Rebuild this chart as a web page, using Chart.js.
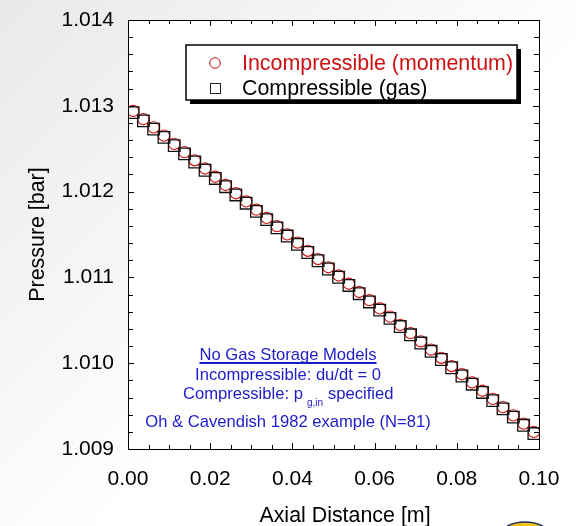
<!DOCTYPE html>
<html>
<head>
<meta charset="utf-8">
<script src="https://cdn.jsdelivr.net/npm/chart.js@4"></script>
<style>
html,body{margin:0;padding:0;background:#fff;}
canvas{display:block;}
</style>
</head>
<body>
<canvas id="c" width="576" height="526"></canvas>
<script>
const axialDistance = [0.00125, 0.00375, 0.00625, 0.00875, 0.01125, 0.01375, 0.01625, 0.01875, 0.02125, 0.02375,
  0.02625, 0.02875, 0.03125, 0.03375, 0.03625, 0.03875, 0.04125, 0.04375, 0.04625, 0.04875,
  0.05125, 0.05375, 0.05625, 0.05875, 0.06125, 0.06375, 0.06625, 0.06875, 0.07125, 0.07375,
  0.07625, 0.07875, 0.08125, 0.08375, 0.08625, 0.08875, 0.09125, 0.09375, 0.09625, 0.09875];
const incompressible = [1.01294, 1.012844, 1.012748, 1.012652, 1.012556, 1.01246, 1.012365, 1.012269, 1.012173, 1.012077,
  1.011981, 1.011885, 1.011789, 1.011693, 1.011597, 1.011502, 1.011406, 1.01131, 1.011214, 1.011118,
  1.011022, 1.010926, 1.01083, 1.010734, 1.010638, 1.010543, 1.010447, 1.010351, 1.010255, 1.010159,
  1.010063, 1.009967, 1.009871, 1.009775, 1.009679, 1.009584, 1.009488, 1.009392, 1.009296, 1.0092];
const compressible = [1.01292, 1.012824, 1.012728, 1.012632, 1.012536, 1.01244, 1.012345, 1.012249, 1.012153, 1.012057,
  1.011961, 1.011865, 1.011769, 1.011673, 1.011577, 1.011482, 1.011386, 1.01129, 1.011194, 1.011098,
  1.011002, 1.010906, 1.01081, 1.010714, 1.010618, 1.010523, 1.010427, 1.010331, 1.010235, 1.010139,
  1.010043, 1.009947, 1.009851, 1.009755, 1.009659, 1.009564, 1.009468, 1.009372, 1.009276, 1.00918];
const seriesNames = ['Incompressible (momentum)', 'Compressible (gas)'];
const xTickLabels = ['0.00', '0.02', '0.04', '0.06', '0.08', '0.10'];
const yTickLabels = ['1.009', '1.010', '1.011', '1.012', '1.013', '1.014'];
const xTitle = 'Axial Distance [m]';
const yTitle = 'Pressure [bar]';
const noteLines = ['No Gas Storage Models', 'Incompressible: du/dt = 0', 'Compressible: p', 'g,in', 'specified', 'Oh & Cavendish 1982 example (N=81)'];

const FONT = "'Liberation Sans', Arial, Helvetica, sans-serif";
const RED = '#d01010';
const BLUE = '#1c1cc8';

const toXY = (xs, ys) => xs.map((x, i) => ({x: x, y: ys[i]}));

const bgPlugin = {
  id: 'bg',
  beforeDraw(chart) {
    const ctx = chart.ctx;
    ctx.save();
    const g = ctx.createLinearGradient(0, 0, 320, 320);
    g.addColorStop(0, '#e9e9e9');
    g.addColorStop(1, '#ffffff');
    ctx.fillStyle = g;
    ctx.fillRect(0, 0, chart.width, chart.height);
    const a = chart.chartArea;
    ctx.fillStyle = '#ffffff';
    ctx.fillRect(a.left, a.top, a.right - a.left, a.bottom - a.top);
    ctx.restore();
  }
};

const frame = {
  id: 'frame',
  afterDatasetsDraw(chart) {
    const ctx = chart.ctx;
    const a = chart.chartArea;
    const xs = chart.scales.x, ys = chart.scales.y;
    ctx.save();
    ctx.strokeStyle = '#000';
    ctx.lineWidth = 1;
    ctx.strokeRect(Math.round(a.left) + 0.5, Math.round(a.top) + 0.5, Math.round(a.right - a.left), Math.round(a.bottom - a.top));
    ctx.beginPath();
    for (let k = 0; k <= 20; k++) {
      const v = k * 0.005;
      const px = Math.round(xs.getPixelForValue(v)) + 0.5;
      const len = (k % 4 === 0) ? 6 : 4;
      ctx.moveTo(px, a.bottom); ctx.lineTo(px, a.bottom - len);
      ctx.moveTo(px, a.top); ctx.lineTo(px, a.top + len);
    }
    for (let k = 0; k <= 25; k++) {
      const v = 1.009 + k * 0.0002;
      const py = Math.round(ys.getPixelForValue(v)) + 0.5;
      const len = (k % 5 === 0) ? 6 : 5;
      ctx.moveTo(a.left, py); ctx.lineTo(a.left + len, py);
      ctx.moveTo(a.right, py); ctx.lineTo(a.right - len, py);
    }
    ctx.stroke();

    // x axis title
    ctx.font = '21.4px ' + FONT;
    ctx.fillStyle = '#000';
    ctx.textAlign = 'center';
    ctx.textBaseline = 'middle';
    ctx.fillText(xTitle, 345, 516);

    // legend box
    const bx = 186, by = 45, bw = 331, bh = 55;
    ctx.fillStyle = '#000';
    ctx.fillRect(bx + 4, by + 4, bw, bh);
    ctx.fillStyle = '#fff';
    ctx.fillRect(bx, by, bw, bh);
    ctx.lineWidth = 1.5;
    ctx.strokeRect(bx, by, bw, bh);
    ctx.lineWidth = 1;
    ctx.strokeStyle = RED;
    ctx.beginPath(); ctx.arc(215, 63, 5.3, 0, Math.PI * 2); ctx.stroke();
    ctx.strokeStyle = '#222';
    ctx.strokeRect(210.5, 83.5, 10, 10);
    ctx.font = '21.4px ' + FONT;
    ctx.textAlign = 'left';
    ctx.fillStyle = RED;
    ctx.fillText(seriesNames[0], 242, 64);
    ctx.fillStyle = '#000';
    ctx.fillText(seriesNames[1], 242, 89);

    // notes
    ctx.fillStyle = BLUE;
    ctx.strokeStyle = BLUE;
    ctx.font = '16.6px ' + FONT;
    ctx.textAlign = 'center';
    ctx.fillText(noteLines[0], 288, 355);
    const w0 = ctx.measureText(noteLines[0]).width;
    ctx.fillRect(288 - w0 / 2, 362, w0, 2);
    ctx.fillText(noteLines[1], 288, 375);
    ctx.textAlign = 'left';
    ctx.fillText(noteLines[2], 183, 394);
    ctx.font = '10px ' + FONT;
    ctx.fillText(noteLines[3], 307, 403);
    ctx.font = '16.6px ' + FONT;
    ctx.fillText(noteLines[4], 328, 394);
    ctx.textAlign = 'center';
    ctx.fillText(noteLines[5], 288, 422);

    // logo fragment
    ctx.beginPath();
    ctx.ellipse(525, 534, 23, 12, 0, 0, Math.PI * 2);
    ctx.fillStyle = '#f2c21c';
    ctx.fill();
    ctx.strokeStyle = '#1e2f5e';
    ctx.lineWidth = 1.5;
    ctx.stroke();
    ctx.restore();
  }
};

new Chart(document.getElementById('c'), {
  type: 'scatter',
  data: {
    datasets: [
      {
        label: seriesNames[1],
        data: toXY(axialDistance, compressible),
        pointStyle: 'rect',
        pointRadius: 8.2,
        pointHoverRadius: 8.2,
        borderColor: '#111',
        backgroundColor: 'rgba(0,0,0,0)',
        borderWidth: 1.3,
        showLine: false
      },
      {
        label: seriesNames[0],
        data: toXY(axialDistance, incompressible),
        pointStyle: 'circle',
        pointRadius: 5.6,
        pointHoverRadius: 5.6,
        borderColor: RED,
        backgroundColor: 'rgba(0,0,0,0)',
        borderWidth: 1.1,
        showLine: false
      }
    ]
  },
  options: {
    responsive: false,
    animation: false,
    devicePixelRatio: 1,
    layout: {padding: {top: 20, right: 37, left: 0, bottom: 0}},
    plugins: {legend: {display: false}, tooltip: {enabled: false}},
    scales: {
      x: {
        type: 'linear', min: 0, max: 0.1,
        afterFit(s) { s.height = 77; s.paddingLeft = 0; s.paddingRight = 0; },
        grid: {display: false, drawTicks: false},
        border: {display: false},
        ticks: {
          stepSize: 0.02, padding: 18, color: '#000',
          font: {family: FONT, size: 21},
          callback: (v, i) => xTickLabels[i]
        },
        title: {display: false, text: xTitle}
      },
      y: {
        type: 'linear', min: 1.009, max: 1.014,
        afterFit(s) { s.width = 128; s.paddingTop = 0; s.paddingBottom = 0; },
        grid: {display: false, drawTicks: false},
        border: {display: false},
        ticks: {
          stepSize: 0.001, padding: 14, color: '#000',
          font: {family: FONT, size: 21},
          callback: (v, i) => yTickLabels[i]
        },
        title: {display: true, text: yTitle, color: '#000', font: {family: FONT, size: 21.4, lineHeight: 1}, padding: {top: 27, bottom: 0}}
      }
    }
  },
  plugins: [bgPlugin, frame]
});
</script>
</body>
</html>
